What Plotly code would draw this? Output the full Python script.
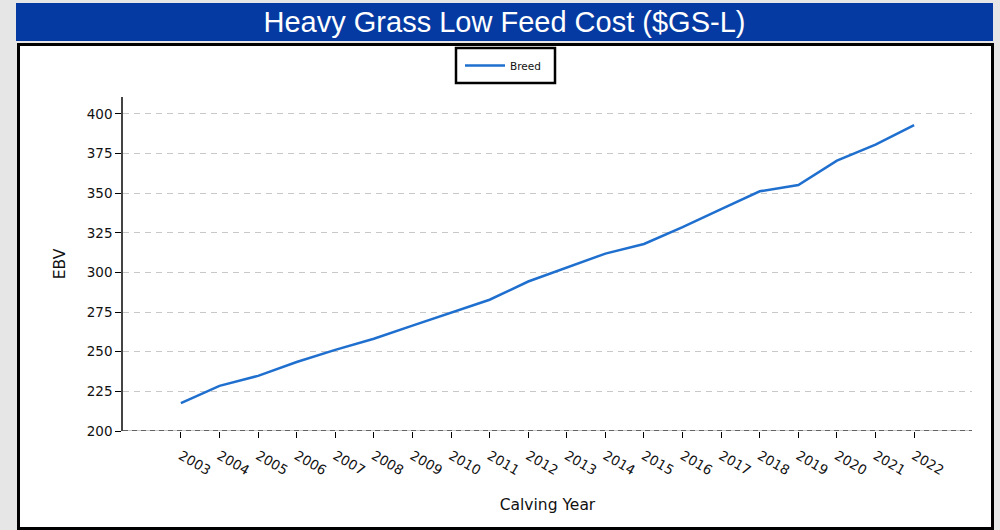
import plotly.graph_objects as go

# --------------------- Data
years = list(range(2003, 2023))
ebv_breed = [217.6, 228.5, 234.8, 243.5, 251.2, 258.2, 266.5, 274.7, 282.8, 294.3,
             303.2, 311.9, 318.0, 328.6, 340.0, 351.2, 355.2, 370.6, 380.7, 393.0]
y_ticks = [200, 225, 250, 275, 300, 325, 350, 375, 400]

# --------------------- Figure
W, H = 1000, 530
L, R, T, B = 123, 28, 97, 99
pw, ph = W - L - R, H - T - B


def px_x(x):
    return (x - L) / pw


def px_y(y):
    return (H - B - y) / ph


fig = go.Figure()

fig.add_trace(
    go.Scatter(
        x=years, y=ebv_breed, name='Breed', mode='lines',
        line=dict(color='#1f6fcf', width=2.5)))

# panel / header decorations
shapes = [
    dict(type='rect', xref='paper', yref='paper', layer='below',
         x0=px_x(16), x1=px_x(993), y0=px_y(41), y1=px_y(3),
         fillcolor='#053aa2', line=dict(width=0)),
    dict(type='rect', xref='paper', yref='paper', layer='below',
         x0=px_x(18.5), x1=px_x(992.5), y0=px_y(528.5), y1=px_y(44.5),
         fillcolor='white', line=dict(color='black', width=3)),
    # legend frame
    dict(type='rect', xref='paper', yref='paper', layer='below',
         x0=px_x(456), x1=px_x(555), y0=px_y(83), y1=px_y(48),
         fillcolor='white', line=dict(color='black', width=2.5)),
    # bottom spine: grey underlay with black dashes
    dict(type='line', xref='paper', yref='y', x0=0, x1=1, y0=200, y1=200,
         line=dict(color='#c8c8c8', width=2)),
    dict(type='line', xref='paper', yref='y', x0=0, x1=1, y0=200, y1=200,
         line=dict(color='black', width=1, dash='5px,4px')),
]

fig.update_xaxes(
    range=[2001.5, 2023.5], tickvals=years, ticktext=[str(y) for y in years],
    tickangle=30, ticks='outside', ticklen=6, tickcolor='black', tickwidth=1,
    ticklabelstandoff=5,
    showgrid=False, zeroline=False, showline=False,
    tickfont=dict(size=13.5, color='#111', family='DejaVu Sans'),
    title_text='Calving Year', title_standoff=22,
    title_font=dict(size=15.5, color='#111', family='DejaVu Sans'))

fig.update_yaxes(
    range=[200, 410.7], tickvals=y_ticks, ticks='outside', ticklen=6,
    tickcolor='black', tickwidth=1,
    showline=True, linecolor='#444', linewidth=1.5,
    showgrid=True, gridcolor='#c8c8c8', gridwidth=1.3, griddash='6px,5px',
    zeroline=False,
    tickfont=dict(size=13.5, color='#111', family='DejaVu Sans'),
    title_text='EBV', title_standoff=17,
    title_font=dict(size=15.5, color='#111', family='DejaVu Sans'))

fig.update_layout(
    width=W, height=H,
    margin=dict(l=L, r=R, t=T, b=B, autoexpand=False),
    paper_bgcolor='#e6e6e6', plot_bgcolor='white',
    shapes=shapes,
    title=dict(
        text='Heavy Grass Low Feed Cost ($GS-L)',
        xref='container', yref='container',
        x=504.5 / W, y=1 - 22 / H, xanchor='center', yanchor='middle',
        font=dict(size=29, color='white', family='Liberation Sans, Arial')),
    legend=dict(
        x=px_x(460), y=px_y(65.5), xanchor='left', yanchor='middle',
        bgcolor='rgba(0,0,0,0)', borderwidth=0,
        itemwidth=40,
        font=dict(size=10.5, color='#111', family='DejaVu Sans')),
    showlegend=True,
)

fig.write_html("out.html", config={'displayModeBar': False},
               post_script="document.body.style.margin='0';")
